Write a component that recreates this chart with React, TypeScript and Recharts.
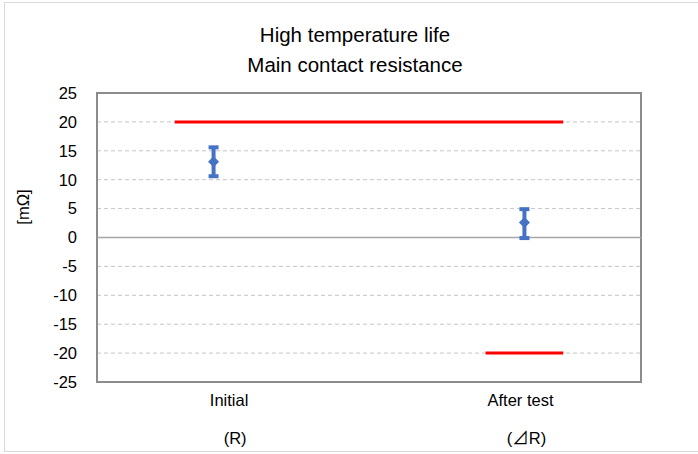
import {
  ComposedChart,
  Scatter,
  Line,
  ErrorBar,
  XAxis,
  YAxis,
  CartesianGrid,
  ReferenceLine,
  ReferenceArea,
} from "recharts";

// Две точки измерения: начальное значение R и изменение после испытания ⊿R
const categories = ["Initial", "After test"];
const subLabels = ["(R)", "(⊿R)"];
const pointX = [3, 11];
const labelX = [3.4, 10.9];
const means = [13.1, 2.6];
const mins = [10.6, -0.1];
const maxs = [15.6, 4.9];

// Пределы (красные линии)
const upperLimit = [
  { x: 2, y: 20 },
  { x: 12, y: 20 },
];
const lowerLimit = [
  { x: 10, y: -20 },
  { x: 12, y: -20 },
];

const yTicks = [-25, -20, -15, -10, -5, 0, 5, 10, 15, 20, 25];

const FONT = "'Liberation Sans', Arial, sans-serif";
const FONT_SUB = "'Liberation Sans', 'Noto Sans CJK JP', sans-serif";
const BLUE = "#4472C4";

const points = pointX.map((x, i) => ({
  x,
  y: means[i],
  err: [means[i] - mins[i], maxs[i] - means[i]],
}));

function Diamond(props: { cx?: number; cy?: number }) {
  const { cx = 0, cy = 0 } = props;
  const r = 5.5;
  return (
    <polygon
      points={`${cx},${cy - r} ${cx + r},${cy} ${cx},${cy + r} ${cx - r},${cy}`}
      fill={BLUE}
    />
  );
}

function CategoryTick(props: { x?: number; y?: number; payload?: { value: number } }) {
  const { x = 0, y = 0, payload } = props;
  const i = labelX.indexOf(payload?.value as number);
  if (i < 0) return null;
  return (
    <g>
      <text x={x} y={y + 24} textAnchor="middle" fontSize={16.5} fontFamily={FONT} fill="#000">
        {categories[i]}
      </text>
      <text x={x + 6} y={y + 62} textAnchor="middle" fontSize={16.5} fontFamily={FONT_SUB} fill="#000">
        {subLabels[i]}
      </text>
    </g>
  );
}

export default function App() {
  return (
    <div style={{ position: "relative", width: 698, height: 454, overflow: "hidden", background: "#fff" }}>
      <style>{`body{margin:0}`}</style>
      <div
        style={{
          position: "absolute",
          left: 4,
          top: 2,
          width: 720,
          height: 450,
          border: "1px solid #D9D9D9",
          boxSizing: "border-box",
        }}
      />
      <div
        style={{
          position: "absolute",
          left: 0,
          width: 710,
          top: 20,
          textAlign: "center",
          fontFamily: FONT,
          fontSize: 20.5,
          lineHeight: "30px",
          color: "#000",
        }}
      >
        <div>High temperature life</div>
        <div>Main contact resistance</div>
      </div>
      <div
        style={{
          position: "absolute",
          left: 23,
          top: 207,
          transform: "translate(-50%, -50%) rotate(-90deg)",
          fontFamily: FONT,
          fontSize: 16.5,
          color: "#000",
          whiteSpace: "nowrap",
        }}
      >
        [mΩ]
      </div>
      <ComposedChart
        width={698}
        height={454}
        margin={{ top: 93, right: 57, bottom: 0, left: 17 }}
        style={{ position: "absolute", left: 0, top: 0 }}
      >
        <CartesianGrid vertical={false} stroke="#C4C4C4" strokeDasharray="4 3" />
        <XAxis
          dataKey="x"
          type="number"
          domain={[0, 14]}
          ticks={labelX}
          axisLine={false}
          tickLine={false}
          tickSize={0}
          tickMargin={0}
          height={72}
          tick={<CategoryTick />}
          allowDataOverflow
        />
        <YAxis
          type="number"
          domain={[-25, 25]}
          ticks={yTicks}
          axisLine={false}
          tickLine={false}
          tickSize={0}
          tickMargin={20}
          width={80}
          tick={{ fontSize: 16.5, fontFamily: FONT, fill: "#000" }}
          interval={0}
        />
        <ReferenceLine y={0} stroke="#A6A6A6" strokeWidth={1.5} />
        <ReferenceArea
          x1={0}
          x2={14}
          y1={-25}
          y2={25}
          fill="none"
          stroke="#8C8C8C"
          strokeWidth={2}
        />
        <Line
          data={upperLimit}
          dataKey="y"
          stroke="#FF0000"
          strokeWidth={3}
          dot={false}
          isAnimationActive={false}
        />
        <Line
          data={lowerLimit}
          dataKey="y"
          stroke="#FF0000"
          strokeWidth={3}
          dot={false}
          isAnimationActive={false}
        />
        <Scatter data={points} dataKey="y" shape={<Diamond />} isAnimationActive={false}>
          <ErrorBar dataKey="err" direction="y" width={5} strokeWidth={4} stroke={BLUE} />
        </Scatter>
      </ComposedChart>
    </div>
  );
}
